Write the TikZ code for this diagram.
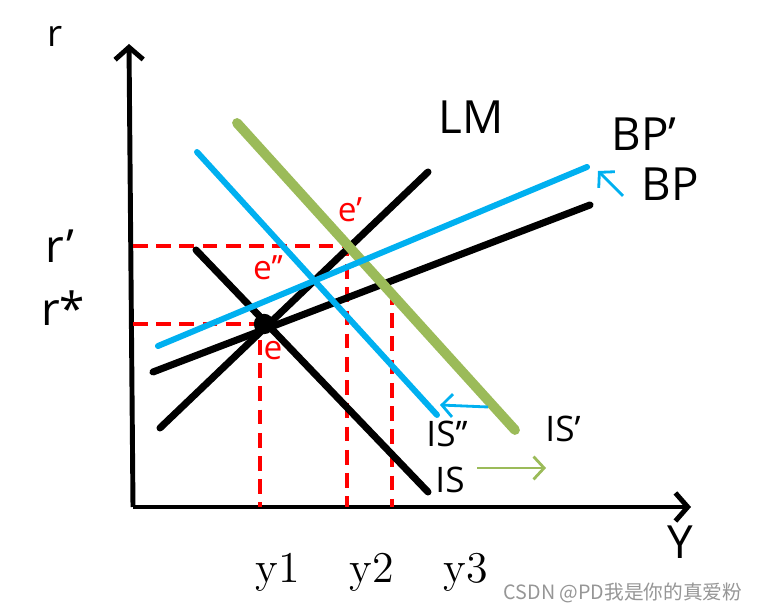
\documentclass[tikz,border=0pt]{standalone}
\usepackage{fontspec}
\newfontfamily\lblfont{Open Sans}
\newfontfamily\cjkfont{Noto Sans CJK SC}
\definecolor{isblue}{RGB}{0,176,240}
\definecolor{isgreen}{RGB}{155,187,89}
\definecolor{markgray}{RGB}{150,150,150}
\usetikzlibrary{arrows.meta}

\begin{document}
\begin{tikzpicture}[x=0.01cm,y=-0.01cm,
    axis/.style={line width=1.4pt,-{Straight Barb[length=3.5pt,width=8pt]}},
    curve/.style={line width=2pt,line cap=round},
    guide/.style={red,line width=0.9pt,dash pattern=on 4.2pt off 2.4pt},
    shiftarrow/.style={line width=0.8pt,-{Straight Barb[length=3pt,width=6.5pt]}},
    tag/.style={font=\lblfont\fontsize{13}{15}\selectfont},
    smalltag/.style={font=\lblfont\fontsize{10}{12}\selectfont},
    pointtag/.style={red,font=\lblfont\fontsize{9.5}{11}\selectfont},
    ytag/.style={font=\fontsize{12.5}{14}\selectfont}]
  \useasboundingbox (0,0) rectangle (757,613);

  % axes
  \coordinate (O) at (133,507);
  \coordinate (rtop) at (129,44);
  \coordinate (Yend) at (691,507);
  \draw[axis] (O) -- (rtop);
  \draw[axis] (O) -- (Yend);

  % equilibrium points
  \coordinate (e) at (264,324);
  \coordinate (elow) at (260,340);
  \coordinate (ep) at (347,246);
  \coordinate (eq) at (392,290);

  % guide lines
  \draw[guide] (O |- ep) -- (ep) -- (ep |- O);
  \draw[guide] (O |- e) -- (e);
  \draw[guide] (elow) -- (elow |- O);
  \draw[guide] (eq) -- (eq |- O);

  % curves
  \coordinate (LMa) at (160,428);  \coordinate (LMb) at (428,172);
  \coordinate (ISa) at (196,250);  \coordinate (ISb) at (428,492);
  \coordinate (BPa) at (153,372);  \coordinate (BPb) at (590,205);
  \coordinate (BPpa) at (158,346); \coordinate (BPpb) at (587,167);
  \coordinate (ISqa) at (197,152); \coordinate (ISqb) at (437,415);
  \coordinate (ISpa) at (237,123); \coordinate (ISpb) at (515,430);
  \draw[curve] (LMa) -- (LMb);
  \draw[curve] (ISa) -- (ISb);
  \draw[curve] (BPa) -- (BPb);
  \draw[curve,isgreen,line width=2.8pt] (ISpa) -- (ISpb);
  \draw[curve,isblue,line width=1.7pt] (BPpa) -- (BPpb);
  \draw[curve,isblue,line width=1.7pt] (ISqa) -- (ISqb);
  \fill (e) circle[radius=2.9pt];

  % shifts
  \coordinate (bps) at (623,196);  \coordinate (bpt) at (598,171);
  \coordinate (isqs) at (488,407); \coordinate (isqt) at (440,405);
  \coordinate (isps) at (477,468); \coordinate (ispt) at (546,468);
  \draw[shiftarrow,isblue] (bps) -- (bpt);
  \draw[shiftarrow,isblue] (isqs) -- (isqt);
  \draw[shiftarrow,isgreen] (isps) -- (ispt);

  % labels
  \node[tag,font=\lblfont\fontsize{10.5}{12}\selectfont] (rlbl) at (55,36) {r};
  \node[tag] (rplbl) at (60,246) {r’};
  \node[tag] (rslbl) at (63,308) {r*};
  \node[tag] (Ylbl) at (680,542) {Y};
  \node[tag] (LMlbl) at (471,117) {LM};
  \node[tag] (BPplbl) at (644,134) {BP’};
  \node[tag] (BPlbl) at (670,184) {BP};
  \node[smalltag] (ISqlbl) at (447,434) {IS’’};
  \node[smalltag] (ISplbl) at (563,429) {IS’};
  \node[smalltag] (ISlbl) at (450,480) {IS};
  \node[pointtag] (eplbl) at (350,210) {e’};
  \node[pointtag] (eqlbl) at (268,268) {e’’};
  \node[pointtag] (elbl) at (273,351) {e};
  \node[ytag] (y1lbl) at (278,572) {y1};
  \node[ytag] (y2lbl) at (372,572) {y2};
  \node[ytag] (y3lbl) at (466,572) {y3};
  \node[markgray,font=\cjkfont\fontsize{5.6}{7}\selectfont] (mark) at (623,593) {CSDN @PD我是你的真爱粉};
\end{tikzpicture}
\end{document}
